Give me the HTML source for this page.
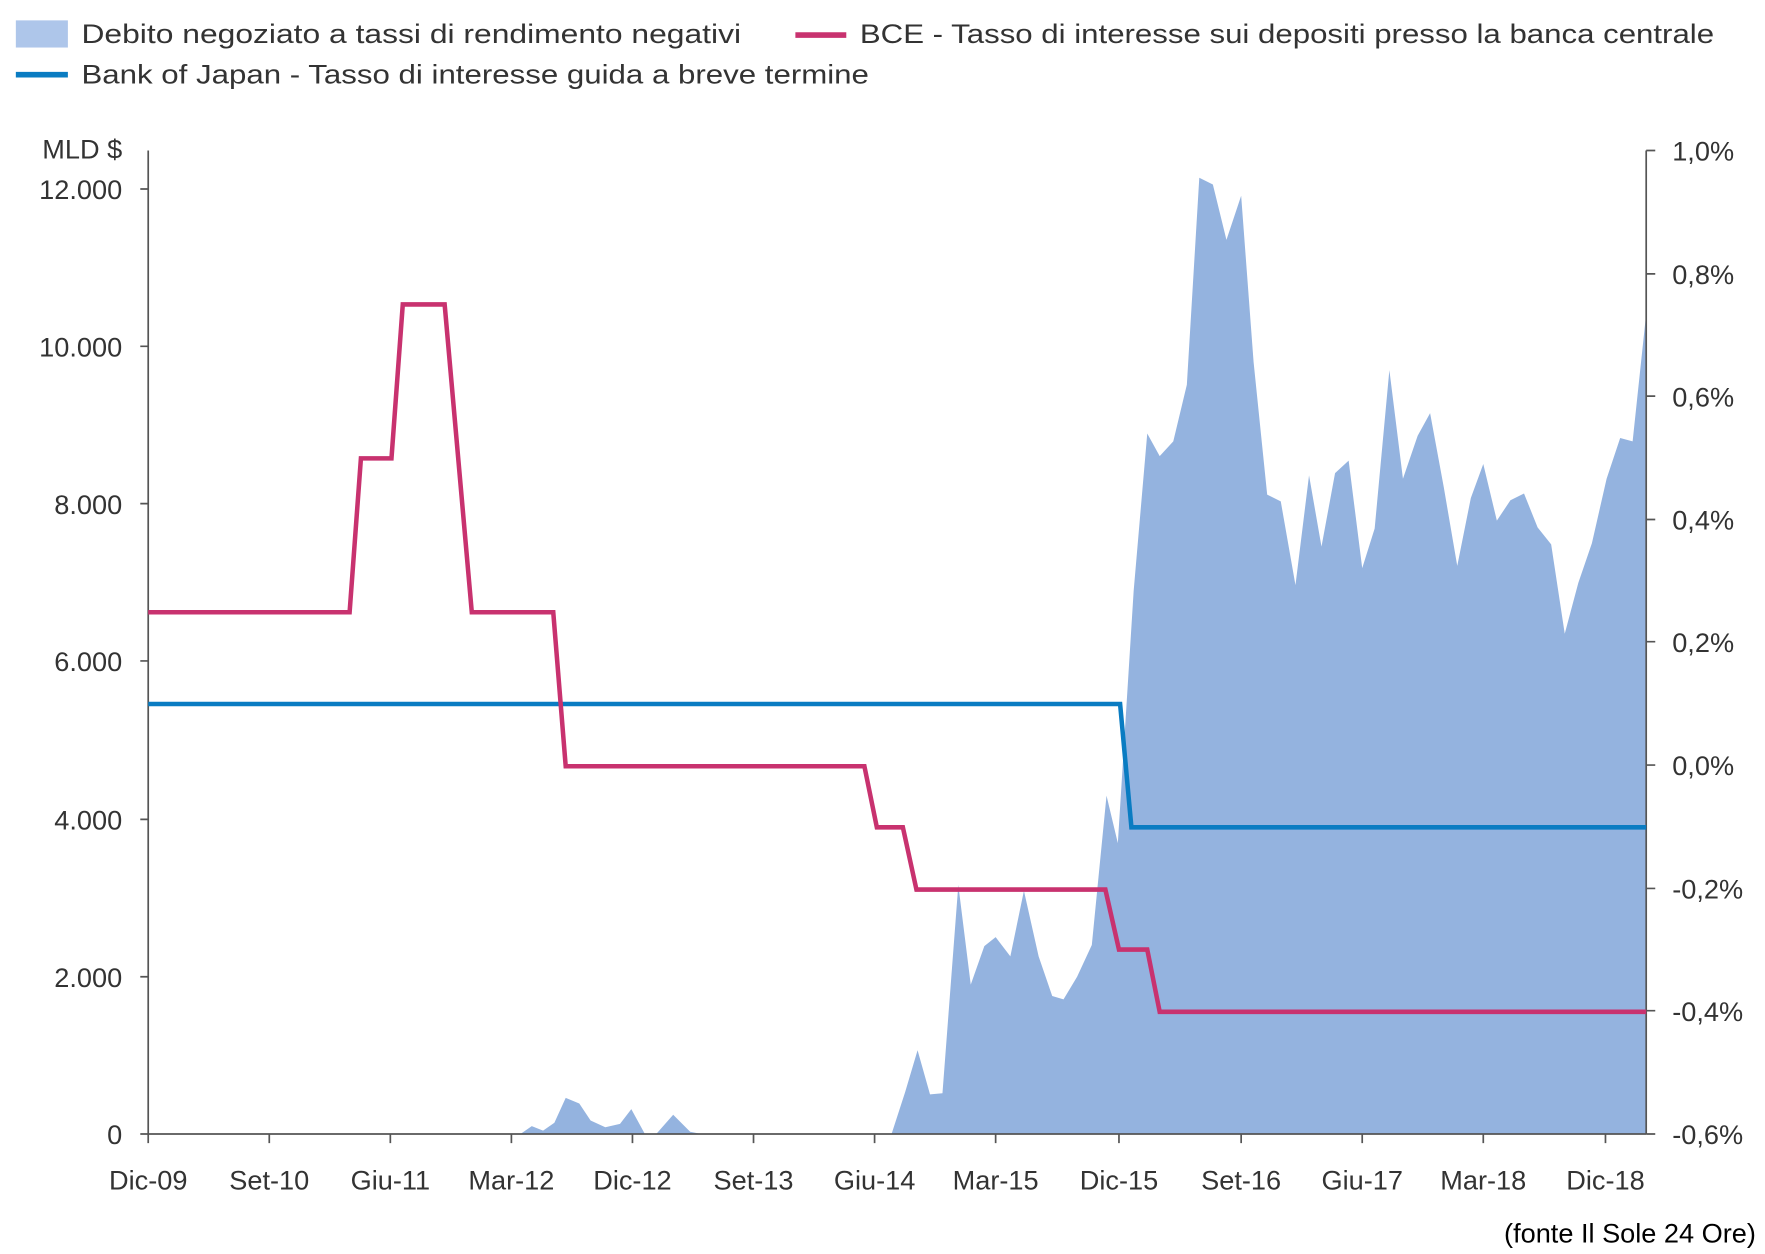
<!DOCTYPE html>
<html><head><meta charset="utf-8"><style>html,body{margin:0;padding:0;background:#fff}svg{display:block}</style></head>
<body>
<svg width="1765" height="1254" viewBox="0 0 1560 1108" preserveAspectRatio="none" xmlns="http://www.w3.org/2000/svg" font-family="Liberation Sans, sans-serif" fill="#333">
<rect x="14" y="18" width="46" height="24" fill="#aec6ea"/>
<text x="72" y="38" font-size="24" textLength="583" lengthAdjust="spacingAndGlyphs">Debito negoziato a tassi di rendimento negativi</text>
<line x1="703" y1="31" x2="748" y2="31" stroke="#c8326f" stroke-width="5"/>
<text x="760" y="38" font-size="24" textLength="755" lengthAdjust="spacingAndGlyphs">BCE - Tasso di interesse sui depositi presso la banca centrale</text>
<line x1="14" y1="66" x2="60" y2="66" stroke="#0a7cc2" stroke-width="5"/>
<text x="72" y="74" font-size="24" textLength="696" lengthAdjust="spacingAndGlyphs">Bank of Japan - Tasso di interesse guida a breve termine</text>

<polygon fill="#94b3df" points="131,1002 460,1002 470,995 480,999 490,992 500,970 512,975 522,990 535,996 548,993 558,980 570,1002 580,1002 595,985 610,1000 620,1002 788,1002 800,965 811,928 822,967 833,966 847,782 858,870 870,836 880,828 893,845 905,787 918,845 930,880 940,883 952,863 965,835 978,703 988,745 1002,522 1014,383 1025,403 1037,390 1049,340 1060,157 1072,163 1084,212 1097,173 1108,320 1120,437 1132,443 1145,517 1157,420 1168,483 1180,418 1192,407 1204,502 1215,467 1228,327 1240,423 1253,385 1264,365 1276,430 1288,500 1300,440 1311,410 1323,460 1335,442 1347,436 1359,466 1371,481 1383,560 1395,515 1407,480 1420,423 1432,387 1443,390 1455,277 1455,1002"/>

<g stroke="#555" stroke-width="1.5" fill="none">
<line x1="131" y1="133" x2="131" y2="1002"/>
<line x1="1455" y1="133" x2="1455" y2="1002"/>
<line x1="131" y1="1002" x2="1455" y2="1002"/>
<path d="M124 167H131M124 306H131M124 445H131M124 584H131M124 724H131M124 863H131M124 1002H131"/>
<path d="M1455 133H1463M1455 242H1463M1455 350H1463M1455 459H1463M1455 567H1463M1455 676H1463M1455 785H1463M1455 893H1463M1455 1002H1463"/>
<path d="M131 1002V1010M238 1002V1010M345 1002V1010M452 1002V1010M559 1002V1010M666 1002V1010M773 1002V1010M880 1002V1010M989 1002V1010M1097 1002V1010M1204 1002V1010M1311 1002V1010M1419 1002V1010"/>
</g>

<polyline fill="none" stroke="#0a7cc2" stroke-width="4" points="131,622 990,622 1000,731 1455,731"/>
<polyline fill="none" stroke="#c8326f" stroke-width="4" points="131,541 309,541 319,405 346,405 356,269 393,269 417,541 489,541 500,677 764,677 775,731 798,731 810,786 977,786 989,839 1014,839 1025,894 1455,894"/>

<g font-size="24" text-anchor="end">
<text x="108" y="140">MLD $</text>
<text x="108" y="176">12.000</text>
<text x="108" y="315">10.000</text>
<text x="108" y="454">8.000</text>
<text x="108" y="593">6.000</text>
<text x="108" y="733">4.000</text>
<text x="108" y="872">2.000</text>
<text x="108" y="1011">0</text>
</g>
<g font-size="24">
<text x="1478" y="142">1,0%</text>
<text x="1478" y="251">0,8%</text>
<text x="1478" y="359">0,6%</text>
<text x="1478" y="468">0,4%</text>
<text x="1478" y="576">0,2%</text>
<text x="1478" y="685">0,0%</text>
<text x="1478" y="794">-0,2%</text>
<text x="1478" y="902">-0,4%</text>
<text x="1478" y="1011">-0,6%</text>
</g>
<g font-size="24" text-anchor="middle">
<text x="131" y="1051">Dic-09</text>
<text x="238" y="1051">Set-10</text>
<text x="345" y="1051">Giu-11</text>
<text x="452" y="1051">Mar-12</text>
<text x="559" y="1051">Dic-12</text>
<text x="666" y="1051">Set-13</text>
<text x="773" y="1051">Giu-14</text>
<text x="880" y="1051">Mar-15</text>
<text x="989" y="1051">Dic-15</text>
<text x="1097" y="1051">Set-16</text>
<text x="1204" y="1051">Giu-17</text>
<text x="1311" y="1051">Mar-18</text>
<text x="1419" y="1051">Dic-18</text>
</g>
<text x="1552" y="1098" font-size="24" text-anchor="end" fill="#000">(fonte Il Sole 24 Ore)</text>
</svg>
</body></html>
